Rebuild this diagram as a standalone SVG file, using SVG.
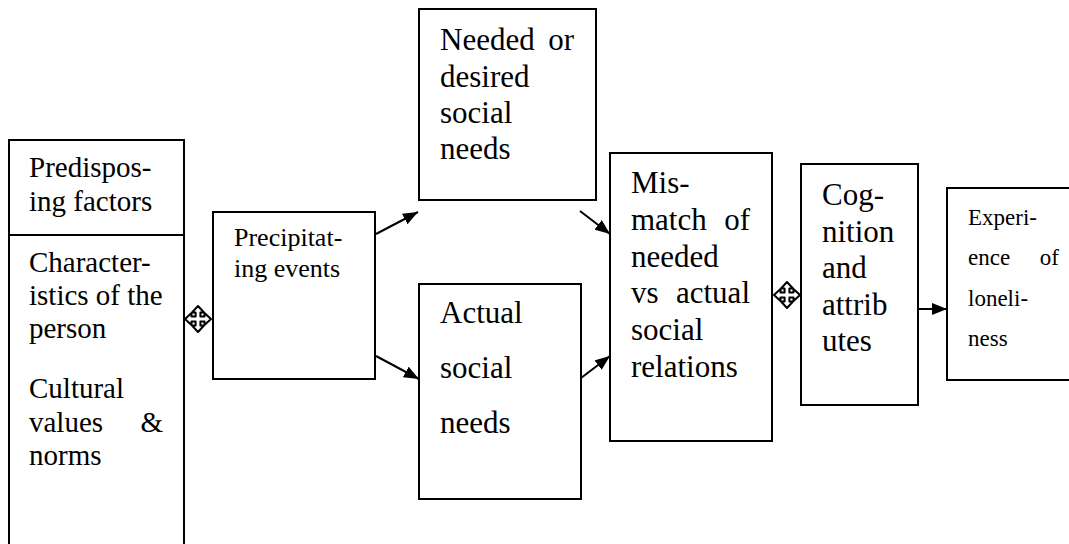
<svg xmlns="http://www.w3.org/2000/svg" width="1069" height="544" viewBox="0 0 1069 544">
<style>
.box{fill:#fff;stroke:#000;stroke-width:2}
.t{font-family:"Liberation Serif","Times New Roman",serif;fill:#000}
.f29{font-size:29px}
.f26{font-size:26px}
.f31{font-size:31px}
.f23{font-size:23px}
.conn{stroke:#000;stroke-width:2;fill:none}
.quad{fill:#fff;stroke:#000;stroke-width:2;stroke-linejoin:round}
</style>
<defs>
<marker id="ah" viewBox="0 0 15 12" refX="15" refY="6" markerUnits="userSpaceOnUse" markerWidth="15" markerHeight="12" orient="auto">
<path d="M0,0 L15,6 L0,12 Z" fill="#000"/>
</marker>
<path id="q4" d="M0,-13 L6,-6.5 L2.4,-6.5 L2.4,-2.4 L6.5,-2.4 L6.5,-6 L13,0 L6.5,6 L6.5,2.4 L2.4,2.4 L2.4,6.5 L6,6.5 L0,13 L-6,6.5 L-2.4,6.5 L-2.4,2.4 L-6.5,2.4 L-6.5,6 L-13,0 L-6.5,-6 L-6.5,-2.4 L-2.4,-2.4 L-2.4,-6.5 L-6,-6.5 Z"/>
</defs>
<rect width="1069" height="544" fill="#fff"/>

<g id="predisposing">
<rect class="box" x="9" y="140" width="175" height="420"/>
<line class="conn" x1="9" y1="235" x2="184" y2="235"/>
<text class="t f29" x="29" y="177">Predispos-</text>
<text class="t f29" x="29" y="211">ing factors</text>
<text class="t f29" x="29" y="272">Character-</text>
<text class="t f29" x="29" y="305">istics of the</text>
<text class="t f29" x="29" y="338">person</text>
<text class="t f29" x="29" y="398">Cultural</text>
<text class="t f29" x="29" y="432">values</text>
<text class="t f29" x="163" y="432" text-anchor="end">&amp;</text>
<text class="t f29" x="29" y="465">norms</text>
</g>

<g id="precipitating">
<rect class="box" x="213" y="212" width="162" height="167"/>
<text class="t f26" x="234" y="246">Precipitat-</text>
<text class="t f26" x="234" y="277">ing events</text>
</g>

<g id="needed">
<rect class="box" x="419" y="9" width="177" height="191"/>
<text class="t f31" x="440" y="50">Needed</text>
<text class="t f31" x="574" y="50" text-anchor="end">or</text>
<text class="t f31" x="440" y="87">desired</text>
<text class="t f31" x="440" y="123">social</text>
<text class="t f31" x="440" y="159">needs</text>
</g>

<g id="actual">
<rect class="box" x="419" y="284" width="162" height="215"/>
<text class="t f31" x="440" y="323">Actual</text>
<text class="t f31" x="440" y="378">social</text>
<text class="t f31" x="440" y="433">needs</text>
</g>

<g id="mismatch">
<rect class="box" x="610" y="153" width="162" height="288"/>
<text class="t f31" x="631" y="193">Mis-</text>
<text class="t f31" x="631" y="230">match</text>
<text class="t f31" x="750" y="230" text-anchor="end">of</text>
<text class="t f31" x="631" y="267">needed</text>
<text class="t f31" x="631" y="303">vs</text>
<text class="t f31" x="750" y="303" text-anchor="end">actual</text>
<text class="t f31" x="631" y="340">social</text>
<text class="t f31" x="631" y="377">relations</text>
</g>

<g id="cognition">
<rect class="box" x="801" y="164" width="117" height="241"/>
<text class="t f31" x="822" y="205">Cog-</text>
<text class="t f31" x="822" y="242">nition</text>
<text class="t f31" x="822" y="278">and</text>
<text class="t f31" x="822" y="315">attrib</text>
<text class="t f31" x="822" y="351">utes</text>
</g>

<g id="experience">
<rect class="box" x="947" y="188" width="140" height="192"/>
<text class="t f23" x="968" y="225">Experi-</text>
<text class="t f23" x="968" y="265">ence</text>
<text class="t f23" x="1059" y="265" text-anchor="end">of</text>
<text class="t f23" x="968" y="306">loneli-</text>
<text class="t f23" x="968" y="346">ness</text>
</g>

<g id="connectors">
<use href="#q4" class="quad" x="198" y="319"/>
<use href="#q4" class="quad" x="787" y="295"/>
<line class="conn" x1="376" y1="234" x2="418" y2="212" marker-end="url(#ah)"/>
<line class="conn" x1="376" y1="356" x2="419" y2="379" marker-end="url(#ah)"/>
<line class="conn" x1="580" y1="211" x2="610" y2="234" marker-end="url(#ah)"/>
<line class="conn" x1="581" y1="378" x2="610" y2="356" marker-end="url(#ah)"/>
<line class="conn" x1="918" y1="309" x2="947" y2="309" marker-end="url(#ah)"/>
</g>
</svg>
